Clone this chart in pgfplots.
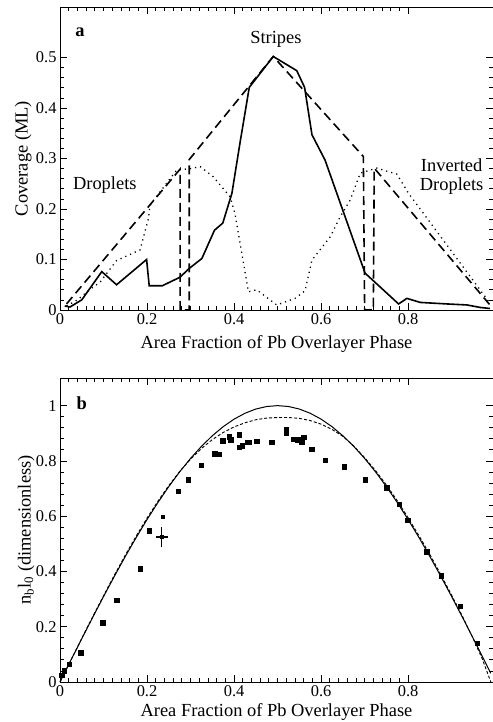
\documentclass[border=0pt]{standalone}
\usepackage{fontspec}
\setmainfont{Liberation Serif}
\usepackage{pgfplots}
\pgfplotsset{compat=1.18}

\pgfplotsset{
  panel/.style={
    scale only axis, width=433bp,
    xmin=0, xmax=0.995,
    xtick={0,0.2,0.4,0.6,0.8},
    minor x tick num=9,
    tick align=inside,
    major tick length=7bp, minor tick length=4bp,
    axis line style={line width=0.9bp},
    every tick/.style={black, line width=0.8bp},
    /pgf/number format/assume math mode=true,
    tick label style={font=\fontsize{16.5}{16.5}\selectfont},
    label style={font=\fontsize{18.5}{20}\selectfont},
    xlabel={Area Fraction of Pb Overlayer Phase},
    clip=false,
  },
}

\begin{document}
\begin{tikzpicture}
% panel a
\begin{axis}[panel, height=303bp,
    ymin=0, ymax=0.6, ytick={0,0.1,...,0.5}, minor y tick num=4,
    xlabel style={at={(axis description cs:0.5,0)}, anchor=base, yshift=-38bp},
    ylabel={Coverage (ML)},
    ylabel style={at={(axis description cs:-0.075,0.5)}, anchor=base},
]
\addplot[black, line width=1.6bp] coordinates {
 (0.011,0.008) (0.023,0.006) (0.050,0.020) (0.096,0.076) (0.130,0.050)
 (0.199,0.100) (0.205,0.048) (0.235,0.048) (0.276,0.065) (0.295,0.081)
 (0.326,0.102) (0.355,0.158) (0.374,0.172) (0.395,0.231) (0.414,0.333)
 (0.435,0.441) (0.490,0.502) (0.544,0.474) (0.562,0.441) (0.579,0.347)
 (0.609,0.297) (0.701,0.073) (0.778,0.012) (0.797,0.023) (0.828,0.015)
 (0.889,0.012) (0.935,0.010) (0.966,0.005) (0.988,0.003)};
\addplot[black, line width=1.6bp, dash pattern=on 9bp off 5bp] coordinates {
 (0.015,0.012) (0.276,0.279) (0.276,0) (0.297,0) (0.297,0.298)
 (0.490,0.502) (0.697,0.304) (0.700,0) (0.720,0) (0.722,0.281) (0.988,0.010)};
\addplot[black, line width=1.3bp, dash pattern=on 1.2bp off 4bp] coordinates {
 (0.015,0.008) (0.040,0.020) (0.069,0.041) (0.092,0.055) (0.130,0.098)
 (0.184,0.119) (0.203,0.180) (0.207,0.208) (0.268,0.277) (0.300,0.280)
 (0.322,0.284) (0.352,0.264) (0.391,0.224) (0.402,0.191) (0.433,0.036)
 (0.452,0.040) (0.498,0.010) (0.540,0.023) (0.563,0.038) (0.579,0.099)
 (0.621,0.145) (0.644,0.185) (0.667,0.218) (0.690,0.271) (0.728,0.281)
 (0.774,0.269) (0.801,0.231) (0.985,0.017)};
\node[font=\fontsize{18.5}{20}\selectfont\bfseries] at (axis cs:0.046,0.55) {a};
\node[font=\fontsize{18.5}{20}\selectfont] at (axis cs:0.496,0.535) {Stripes};
\node[font=\fontsize{18.5}{20}\selectfont] at (axis cs:0.103,0.248) {Droplets};
\node[font=\fontsize{18.5}{19}\selectfont, align=center] at (axis cs:0.90,0.265) {Inverted\\Droplets};
\end{axis}
% panel b
\begin{axis}[panel, height=304bp, at={(0,-372bp)},
    ymin=0, ymax=1.1, ytick={0,0.2,...,1}, minor y tick num=4,
    xlabel style={at={(axis description cs:0.5,0)}, anchor=base, yshift=-34bp},
    ylabel={n\textsubscript{b}l\textsubscript{0} (dimensionless)},
    ylabel style={at={(axis description cs:-0.068,0.5)}, anchor=base},
]
\addplot[black, line width=1bp] coordinates {
 (0,0) (0.025,0.0785) (0.05,0.1564) (0.075,0.2334) (0.1,0.3090) (0.125,0.3827)
 (0.15,0.4540) (0.175,0.5225) (0.2,0.5878) (0.225,0.6494) (0.25,0.7071)
 (0.275,0.7604) (0.3,0.8090) (0.325,0.8526) (0.35,0.8910) (0.375,0.9239)
 (0.4,0.9511) (0.425,0.9724) (0.45,0.9877) (0.475,0.9969) (0.5,1)
 (0.525,0.9969) (0.55,0.9877) (0.575,0.9724) (0.6,0.9511) (0.625,0.9239)
 (0.65,0.8910) (0.675,0.8526) (0.7,0.8090) (0.725,0.7604) (0.75,0.7071)
 (0.775,0.6494) (0.8,0.5878) (0.825,0.5225) (0.85,0.4540) (0.875,0.3827)
 (0.9,0.3090) (0.925,0.2334) (0.95,0.1564) (0.975,0.0785) (0.99,0.0314)};
\addplot[black, line width=0.9bp, dash pattern=on 3bp off 2bp] coordinates {
 (0,0) (0.025,0.079) (0.05,0.158) (0.075,0.236) (0.1,0.312) (0.125,0.387)
 (0.15,0.459) (0.175,0.528) (0.2,0.593) (0.225,0.654) (0.25,0.711)
 (0.275,0.762) (0.3,0.806) (0.325,0.845) (0.35,0.877) (0.375,0.903)
 (0.4,0.923) (0.425,0.938) (0.45,0.949) (0.475,0.955) (0.5,0.957)
 (0.525,0.957) (0.55,0.954) (0.575,0.946) (0.6,0.933) (0.625,0.914)
 (0.65,0.889) (0.675,0.854) (0.7,0.812) (0.725,0.765) (0.75,0.713)
 (0.775,0.656) (0.8,0.594) (0.825,0.529) (0.85,0.461) (0.875,0.389)
 (0.9,0.314) (0.925,0.237) (0.95,0.155) (0.97,0.085) (0.99,0.0)};
\addplot[only marks, mark=square*, mark size=2.3bp, black] coordinates {
 (0.004,0.024) (0.010,0.040) (0.021,0.064) (0.048,0.106) (0.098,0.215)
 (0.130,0.296) (0.184,0.409) (0.205,0.547) (0.272,0.691) (0.295,0.733)
 (0.324,0.785) (0.355,0.826) (0.366,0.824) (0.374,0.873) (0.389,0.888)
 (0.392,0.876) (0.412,0.894) (0.412,0.849) (0.419,0.856) (0.431,0.867)
 (0.435,0.867) (0.452,0.871) (0.487,0.868) (0.520,0.915) (0.520,0.902)
 (0.536,0.879) (0.546,0.876) (0.556,0.867) (0.560,0.886) (0.579,0.842)
 (0.609,0.802) (0.653,0.780) (0.701,0.731) (0.751,0.702) (0.779,0.644)
 (0.799,0.586) (0.843,0.471) (0.876,0.384) (0.920,0.275) (0.959,0.141)};
\addplot[only marks, mark=square*, mark size=1.5bp, black] coordinates {(0.236,0.598)};
\addplot[only marks, mark=square*, mark size=1.5bp, black,
    error bars/.cd, x dir=both, x explicit, y dir=both, y explicit,
    error mark=none, error bar style={line width=1.2bp}]
    coordinates {(0.234,0.525) +- (0.014,0.036)};
\node[font=\fontsize{18.5}{20}\selectfont\bfseries] at (axis cs:0.05,1.01) {b};
\end{axis}
\pgfresetboundingbox
\path (-60bp,-412bp) rectangle (433bp,310bp);
\end{tikzpicture}
\end{document}
